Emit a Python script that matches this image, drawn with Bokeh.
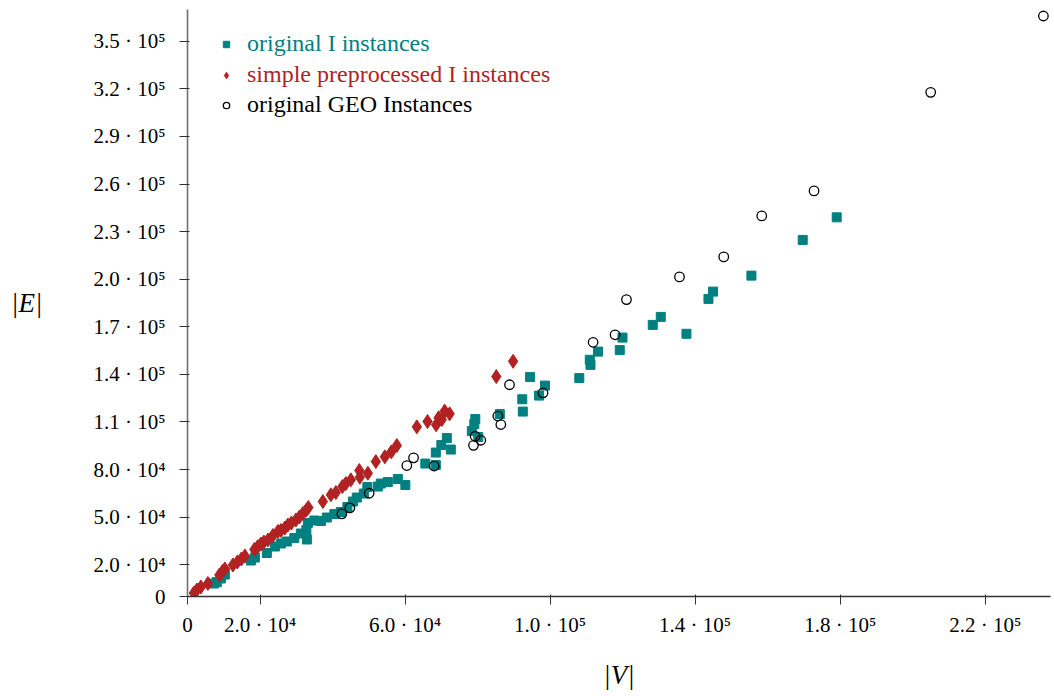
from bokeh.plotting import figure
from bokeh.models import Range1d, FixedTicker, Legend, LegendItem
from bokeh.embed import file_html
from bokeh.resources import INLINE

# original I instances (|V|, |E|)
orig_x = [7300, 8100, 9200, 10300, 17480, 18580, 21890, 24100, 25750, 27400, 29470,
          31260, 32780, 32920, 33190, 34990, 36780, 38430, 40500, 42290, 44090, 45600,
          46700, 48630, 49600, 52490, 53320, 55250, 58010, 60080, 65590, 68480, 68480,
          70000, 71520, 72620, 78410, 79100, 79370, 80200, 86130, 92330, 92470, 94480,
          96960, 98590, 108050, 110940, 111140, 113230, 119210, 119960, 128310, 130520,
          137600, 143670, 144940, 155520, 169670, 179040]
orig_y = [8200, 9140, 11340, 13860, 22680, 24570, 27410, 31500, 33400, 34660, 36860,
          39700, 41900, 35920, 46310, 47890, 47570, 49780, 51980, 53240, 56390, 59860,
          62380, 64900, 69000, 69310, 71200, 72150, 74040, 70260, 83800, 82860, 90730,
          95460, 99870, 92630, 104280, 108690, 111840, 100500, 114990, 124320, 116570,
          138310, 126650, 132950, 137680, 149210, 145990, 154380, 155320, 163200, 171200,
          176240, 165590, 187580, 192180, 202260, 224760, 239000]

# simple preprocessed I instances
pre_x = [1760, 2590, 3690, 5620, 8800, 9620, 10310, 12520, 13760, 14860, 15830, 18440,
         19410, 20240, 21060, 22170, 23550, 24920, 25750, 26850, 27680, 28650, 29890,
         30850, 31820, 32780, 33330, 37330, 39540, 40910, 42710, 43670, 45050, 47390,
         47530, 49740, 51940, 54420, 56220, 57730, 63250, 66200, 68570, 69260, 70140,
         70910, 72290, 85160, 89800]
pre_y = [2200, 4100, 5990, 8190, 13550, 15750, 17330, 19850, 21740, 23630, 25520, 29620,
         31500, 33080, 34340, 35600, 38440, 40960, 41590, 43160, 45050, 46310, 48200,
         50090, 52300, 54500, 56080, 59860, 64080, 65530, 69310, 71200, 73530, 79390,
         75170, 77690, 85060, 88030, 91180, 95150, 106930, 110270, 108190, 112660,
         111530, 116880, 115120, 138620, 148260]

# original GEO instances
geo_x = [42570, 44770, 50100, 60490, 62340, 68020, 78880, 79320, 80890, 85580, 86410,
         88810, 98040, 111860, 117920, 121060, 135680, 147890, 158370, 172790, 204960,
         236040]
geo_y = [52110, 55890, 65090, 82550, 87400, 82230, 95270, 101010, 98490, 113740, 108380,
         133460, 128360, 160240, 164970, 187150, 201450, 214050, 239890, 255640, 317770,
         365910]

x_ticks = [0, 20000, 60000, 100000, 140000, 180000, 220000]
x_labels = ["0", "2.0 · 10⁴", "6.0 · 10⁴", "1.0 · 10⁵", "1.4 · 10⁵", "1.8 · 10⁵", "2.2 · 10⁵"]
y_ticks = [0, 20000, 50000, 80000, 110000, 140000, 170000, 200000, 230000, 260000,
           290000, 320000, 350000]
y_labels = ["0", "2.0 · 10⁴", "5.0 · 10⁴", "8.0 · 10⁴", "1.1 · 10⁵", "1.4 · 10⁵",
            "1.7 · 10⁵", "2.0 · 10⁵", "2.3 · 10⁵", "2.6 · 10⁵", "2.9 · 10⁵",
            "3.2 · 10⁵", "3.5 · 10⁵"]

legend_labels = ["original I instances", "simple preprocessed I instances",
                 "original GEO Instances"]

TEAL = "#008080"
RED = "#B22222"
FONT = "Liberation Serif"

p = figure(width=1054, height=696, output_backend="svg", toolbar_location=None,
           x_range=Range1d(0, 238000), y_range=Range1d(0, 370000),
           min_border_left=187, min_border_right=4, min_border_top=9,
           min_border_bottom=100, background_fill_color="white",
           border_fill_color="white")
p.outline_line_color = None
p.grid.visible = False

r1 = p.scatter(orig_x, orig_y, marker="square", size=9, fill_color=TEAL,
               line_color=TEAL)
r2 = p.scatter(pre_x, pre_y, marker="diamond", size=14, fill_color=RED,
               line_color=RED)
r3 = p.scatter(geo_x, geo_y, marker="circle", size=9.5, fill_color=None,
               line_color="black", line_width=1.3)

for r, lab, col, ypos in [(r1, legend_labels[0], TEAL, 539),
                          (r2, legend_labels[1], RED, 508),
                          (r3, legend_labels[2], "black", 478)]:
    lg = Legend(items=[LegendItem(label=lab, renderers=[r])], location=(31, ypos),
                label_text_color=col, label_text_font=FONT,
                label_text_font_size="24px", padding=0, margin=0,
                border_line_color=None, background_fill_alpha=0,
                glyph_width=16, glyph_height=20, label_height=20,
                label_standoff=13, spacing=0)
    p.add_layout(lg)

p.xaxis.ticker = FixedTicker(ticks=x_ticks)
p.xaxis.major_label_overrides = dict(zip(x_ticks, x_labels))
p.yaxis.ticker = FixedTicker(ticks=y_ticks)
p.yaxis.major_label_overrides = dict(zip(y_ticks, y_labels))

for ax in (p.xaxis[0], p.yaxis[0]):
    ax.minor_tick_line_color = None
    ax.major_tick_in = 2
    ax.major_tick_out = 8
    ax.major_label_text_font = FONT
    ax.major_label_text_font_size = "21px"
    ax.major_label_text_color = "black"
    ax.axis_label_text_font = FONT
    ax.axis_label_text_font_style = "italic"
    ax.axis_label_text_font_size = "27px"
    ax.axis_label_text_color = "black"

p.xaxis.major_label_standoff = 8
p.yaxis.major_label_standoff = 14

p.xaxis.axis_line_color = "#333333"
p.xaxis.axis_line_width = 1.3
p.xaxis.major_tick_line_color = "#333333"
p.yaxis.axis_line_color = "#707070"
p.yaxis.axis_line_width = 1.6
p.yaxis.major_tick_line_color = "#333333"

p.xaxis.axis_label = "|V|"
p.xaxis.axis_label_standoff = 20
p.yaxis.axis_label = "|E|"
p.yaxis.axis_label_orientation = "horizontal"
p.yaxis.axis_label_standoff = 48

open("out.html", "w").write(file_html(p, INLINE))
